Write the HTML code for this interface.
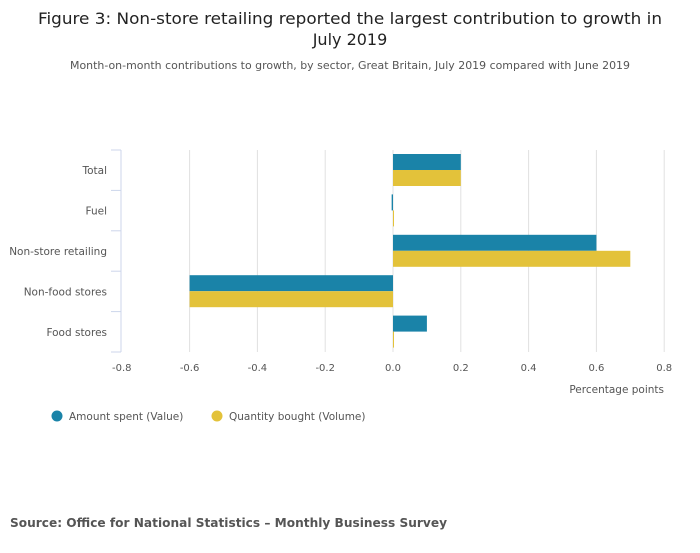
<!DOCTYPE html>
<html><head><meta charset="utf-8"><style>
body{margin:0;background:#fff;font-family:"DejaVu Sans",sans-serif;}
</style></head><body>
<svg width="700" height="549" xmlns="http://www.w3.org/2000/svg" font-family="DejaVu Sans, sans-serif">
<text x="350" y="24" text-anchor="middle" font-size="16" fill="#222" textLength="624" lengthAdjust="spacingAndGlyphs">Figure 3: Non-store retailing reported the largest contribution to growth in</text>
<text x="350" y="45" text-anchor="middle" font-size="16" fill="#222">July 2019</text>
<text x="350" y="69" text-anchor="middle" font-size="11" fill="#555" textLength="560" lengthAdjust="spacingAndGlyphs">Month-on-month contributions to growth, by sector, Great Britain, July 2019 compared with June 2019</text>
<g id="grid"></g>
<g id="bars"></g>
<g id="axes"></g>
<text x="664" y="393" text-anchor="end" font-size="10.5" fill="#555">Percentage points</text>
<circle cx="57" cy="416" r="5.5" fill="#1a83a8"/>
<text x="69" y="420" font-size="10.5" fill="#555">Amount spent (Value)</text>
<circle cx="217" cy="416" r="5.5" fill="#e3c23a"/>
<text x="229" y="420" font-size="10.5" fill="#555">Quantity bought (Volume)</text>
<text x="10" y="527" font-size="12.5" font-weight="bold" fill="#555" textLength="437" lengthAdjust="spacingAndGlyphs">Source: Office for National Statistics – Monthly Business Survey</text>
</svg>
<script>
const categories=["Total","Fuel","Non-store retailing","Non-food stores","Food stores"];
const valueSeries=[0.2,-0.004,0.6,-0.6,0.1];
const volumeSeries=[0.2,0.002,0.7,-0.6,0.002];
const xTicks=[-0.8,-0.6,-0.4,-0.2,0,0.2,0.4,0.6,0.8];
const NS="http://www.w3.org/2000/svg";
const X0=393,PPU=339,PTOP=150,PBOT=352;
const BW=(PBOT-PTOP)/categories.length;
const sx=v=>X0+v*PPU;
const sy=i=>PTOP+i*BW;
function mk(t,a,p){const e=document.createElementNS(NS,t);for(const k in a)e.setAttribute(k,a[k]);document.getElementById(p).appendChild(e);return e;}
xTicks.forEach(t=>{
 if(t!==-0.8){const g=mk('line',{x1:sx(t),x2:sx(t),y1:PTOP,y2:PBOT,stroke:'#e0e0e0','stroke-width':1},'grid');
 
 }
 const l=mk('text',{x:sx(t),y:371,'text-anchor':'middle','font-size':10,fill:'#555'},'axes');
 l.textContent=(t===0?'0.0':t.toFixed(1));
 
 
});
const ax=mk('line',{x1:121,x2:121,y1:PTOP,y2:PBOT,stroke:'#ccd6eb'},'axes');


for(let i=0;i<=categories.length;i++){const tk=mk('line',{x1:111,x2:121,y1:sy(i),y2:sy(i),stroke:'#ccd6eb'},'axes');
 
 }
categories.forEach((c,i)=>{
 const l=mk('text',{x:107,y:sy(i)+BW/2+4,'text-anchor':'end','font-size':10.5,fill:'#555'},'axes');
 l.textContent=c;
 
 
 [[valueSeries,'#1a83a8',0],[volumeSeries,'#e3c23a',1]].forEach(([s,col,k])=>{
  const v=s[i];const xa=Math.min(sx(v),sx(0)),w=Math.max(Math.abs(sx(v)-sx(0)),1);
  const r=mk('rect',{x:xa,y:sy(i)+4+k*16,width:w,height:16,fill:col},'bars');
  
  
 });
});
</script>
</body></html>
